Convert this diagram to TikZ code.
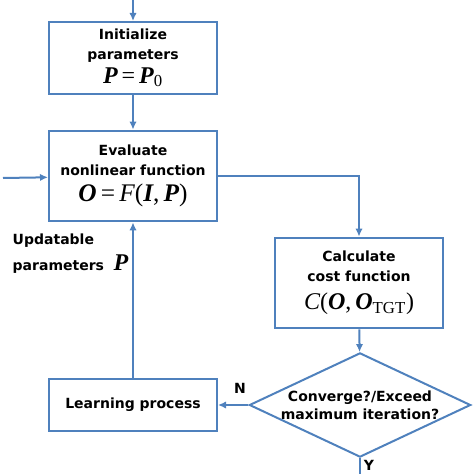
\documentclass[tikz,border=0pt]{standalone}
\usepackage{fontspec}
\setmainfont{DejaVu Sans}
\newfontfamily\tnr{Liberation Serif}
\usetikzlibrary{arrows.meta,shapes.geometric}
\definecolor{bleuligne}{RGB}{79,129,189}
% lettres des formules
\newcommand{\vgras}[1]{{\tnr\bfseries\itshape #1}}
\newcommand{\vital}[1]{{\tnr\mdseries\itshape #1}}
\newcommand{\vdroit}[1]{{\tnr\mdseries\upshape #1}}

\begin{document}
\begin{tikzpicture}[x=0.75pt,y=-0.75pt]
	\tikzset{boite/.style={rectangle, draw=bleuligne, line width=1.5pt, minimum width=126pt, align=center, font=\bfseries\fontsize{10.5}{15}\selectfont, inner sep=0pt},
		losange/.style={diamond, draw=bleuligne, line width=1.5pt, minimum width=166pt, minimum height=78pt, aspect=2.1, inner sep=0pt, align=center, font=\bfseries\fontsize{10.5}{13.5}\selectfont},
		fleche/.style={draw=bleuligne, line width=1.5pt, -{Latex[length=6pt,width=5.5pt]}},
		etiquette/.style={font=\bfseries\fontsize{10.5}{13}\selectfont}};
	\useasboundingbox (0,0) rectangle (474,474);

	\node[boite, minimum height=54pt] (init) at (133,58) {Initialize\\parameters\\[3pt]{\fontsize{18}{18}\selectfont\vgras{P}\,\vdroit{=}\,\vgras{P}\textsubscript{\vdroit{0}}}};
	\node[boite, minimum height=68pt] (eval) at (133,176) {Evaluate\\nonlinear function\\[5pt]{\fontsize{19}{19}\selectfont\vgras{O}\,\vdroit{=}\,\vital{F}\vdroit{(}\vgras{I}\vdroit{,}\,\vgras{P}\vdroit{)}}};
	\node[boite, minimum height=68pt] (cost) at (359,283) {Calculate\\cost function\\[6pt]{\fontsize{18}{18}\selectfont\vital{C}\vdroit{(}\vgras{O}\vdroit{,}\,\vgras{O}\textsubscript{\vdroit{TGT}}\vdroit{)}}};
	\node[losange] (dec) at (360,405) {Converge?/Exceed\\maximum iteration?};
	\node[boite, minimum height=39pt] (learn) at (133,405) {Learning process};

	\coordinate (debut) at (133,0);
	\coordinate (entree) at (3,178);
	\coordinate (fin) at (360,474);

	\node[etiquette, align=left, anchor=north west] (updt) at (8,229) {Updatable\\[5pt]parameters\,\, {\fontsize{18}{16}\selectfont\vgras{P}}};
	\node[etiquette] (nlab) at (240,388) {N};
	\node[etiquette] (ylab) at (369,465) {Y};

	\draw[fleche] (debut) -- (init);
	\draw[fleche] (init) -- (eval);
	\draw[fleche] (entree) -- (eval);
	\draw[fleche] (eval.east) -| (cost.north);
	\draw[fleche] (cost) -- (dec);
	\draw[fleche] (dec.west) -- (learn.east);
	\draw[fleche] (learn) -- (eval);
	\draw[draw=bleuligne, line width=1.5pt] (dec.south) -- (fin);
\end{tikzpicture}
\end{document}
